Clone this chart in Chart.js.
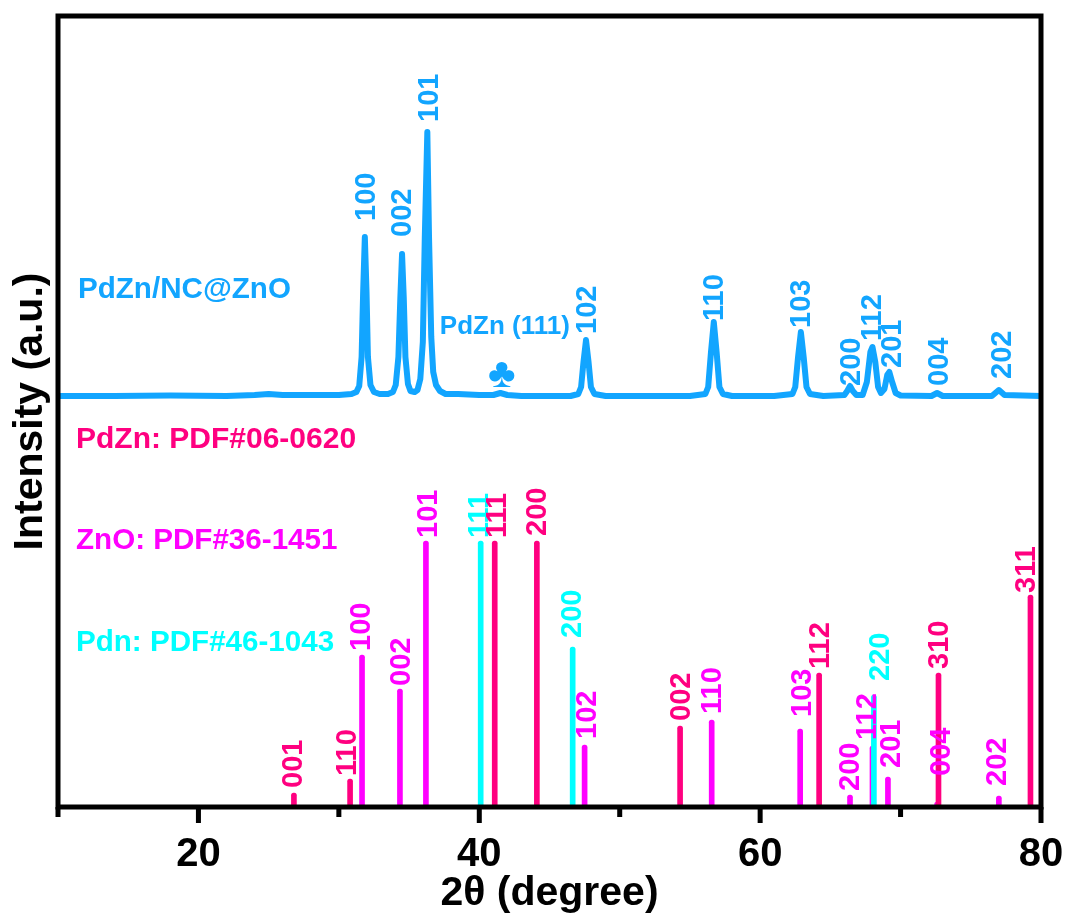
<!DOCTYPE html>
<html>
<head>
<meta charset="utf-8">
<title>XRD</title>
<script src="https://cdn.jsdelivr.net/npm/chart.js@4/dist/chart.umd.min.js"></script>
<style>
  body { margin: 0; background: #fff; }
  canvas { display: block; }
</style>
</head>
<body>
<canvas id="chart" width="1069" height="918"></canvas>
<script>
// measured XRD curve of the sample
const curveAngle = [10, 14, 18, 22, 24, 25, 26, 28, 30, 30.9, 31.25, 31.45, 31.62, 31.73, 31.85, 31.97, 32.07, 32.25, 32.5, 32.9,
  33.5, 33.85, 34.05, 34.24, 34.38, 34.5, 34.62, 34.74, 34.92, 35.1, 35.4, 35.6, 35.8, 35.98, 36.12, 36.3, 36.42, 36.58, 36.72, 36.92,
  37.2, 37.6, 38.5, 40, 41, 41.5, 42, 43, 45, 46.5, 47.05, 47.25, 47.42, 47.6, 47.78, 47.95, 48.2, 49, 52, 55,
  56.1, 56.3, 56.5, 56.7, 56.9, 57.1, 57.35, 58, 61, 62.3, 62.5, 62.7, 62.9, 63.1, 63.3, 63.55, 64.5, 66, 66.2, 66.4,
  66.6, 66.85, 67.3, 67.6, 67.85, 68, 68.2, 68.4, 68.6, 68.85, 69.05, 69.2, 69.4, 69.65, 70, 72.2, 72.6, 73, 76.5, 77, 77.4, 80];
const curveIntensity = [411, 411, 411.5, 411, 412, 413, 412, 412, 412, 413, 415, 421, 450, 515, 570, 515, 450, 422, 415, 413,
  413, 415, 422, 450, 510, 553, 510, 450, 423, 416, 415, 417, 428, 465, 570, 675, 570, 470, 435, 422,
  416, 413, 413, 412, 412, 414, 412, 411, 411, 411, 413, 420, 445, 467, 445, 420, 413, 411, 411, 411,
  413, 420, 455, 485, 455, 420, 413, 411, 411, 413, 420, 450, 475, 450, 420, 413, 411, 412, 416, 421,
  416, 412, 412, 425, 455, 460, 445, 420, 414, 418, 432, 435, 425, 414, 411.5, 411, 414, 411, 411, 417, 412, 411];

// reference patterns
const pdnAngle = [40.1, 46.65, 68.1];
const pdnIntensity = [266, 160, 112];
const pdznAngle = [26.8, 30.8, 41.1, 44.1, 54.3, 64.2, 72.7, 79.25];
const pdznIntensity = [14, 28, 266, 266, 81, 134, 134, 212];
const znoAngle = [31.65, 34.35, 36.2, 47.5, 56.55, 62.85, 66.4, 68, 69.1, 72.6, 77];
const znoIntensity = [152, 118, 266, 62, 87, 78, 12, 61, 30, 5, 11];

// hkl labels: text, angle, intensity at the foot of the rotated text
const curveLabels = [['100', 31.92, 587], ['002', 34.48, 571], ['101', 36.41, 686], ['102', 47.65, 474], ['110', 56.69, 487],
  ['103', 62.88, 480], ['200', 66.44, 422], ['112', 67.94, 467], ['201', 69.36, 440], ['004', 72.7, 422], ['202', 77.19, 429]];
const pdznLabels = [['001', 26.73, 20], ['110', 30.57, 32], ['111', 41.25, 270], ['200', 44.09, 272], ['002', 54.34, 87],
  ['112', 64.23, 139], ['310', 72.7, 139], ['311', 78.9, 215]];
const znoLabels = [['100', 31.57, 157], ['002', 34.41, 122], ['101', 36.33, 270], ['102', 47.65, 69], ['110', 56.55, 94],
  ['103', 62.95, 91], ['200', 66.37, 17], ['112', 67.58, 68], ['201', 69.29, 40], ['004', 72.85, 32], ['202', 76.83, 22]];
const pdnLabels = [['111', 39.96, 270], ['200', 46.58, 170], ['220', 68.5, 127]];

const BLUE = '#12a5ff', CRIMSON = '#ff0080', MAGENTA = '#ff00ff', CYAN = '#00ffff';
const FONT = '"Liberation Sans", Arial, sans-serif';

function toPoints(xs, ys) {
    return xs.map((x, i) => ({ x: x, y: ys[i] }));
}

function stick(label, xs, ys, color, width) {
    return {
        type: 'bar',
        label: label,
        data: toPoints(xs, ys),
        backgroundColor: color,
        barThickness: width,
        borderRadius: 3,
        borderSkipped: false,
        grouped: false
    };
}

// Frame, ticks and all the text sitting inside the plot
const overlay = {
    id: 'overlay',
    afterDatasetsDraw(chart) {
        const ctx = chart.ctx;
        const x = chart.scales.x, y = chart.scales.y;
        const area = chart.chartArea;

        ctx.save();
        ctx.strokeStyle = '#000';
        ctx.fillStyle = '#000';
        ctx.lineWidth = 5;
        ctx.strokeRect(area.left, area.top, area.right - area.left, area.bottom - area.top);

        // major ticks are longer than the minor ones
        x.ticks.forEach(t => {
            const len = t.value % 20 === 0 ? 16 : 10;
            ctx.fillRect(x.getPixelForValue(t.value) - 2.5, area.bottom, 5, len);
        });
        ctx.restore();

        function rotated(list, color) {
            ctx.save();
            ctx.fillStyle = color;
            ctx.font = 'bold 29px ' + FONT;
            ctx.textAlign = 'left';
            ctx.textBaseline = 'middle';
            list.forEach(l => {
                ctx.save();
                ctx.translate(x.getPixelForValue(l[1]) + 1.5, y.getPixelForValue(l[2]) + 1);
                ctx.rotate(-Math.PI / 2);
                ctx.fillText(l[0], 0, 0);
                ctx.restore();
            });
            ctx.restore();
        }
        rotated(curveLabels, BLUE);
        rotated(znoLabels, MAGENTA);
        rotated(pdnLabels, CYAN);
        rotated(pdznLabels, CRIMSON);

        function flat(text, ax, ay, color, size, align) {
            ctx.save();
            ctx.fillStyle = color;
            ctx.font = 'bold ' + size + 'px ' + FONT;
            ctx.textAlign = align || 'left';
            ctx.textBaseline = 'middle';
            ctx.fillText(text, x.getPixelForValue(ax), y.getPixelForValue(ay));
            ctx.restore();
        }
        flat('PdZn/NC@ZnO', 11.42, 517, BLUE, 29.6);
        flat('PdZn (111)', 37.19, 480, BLUE, 26);
        flat('♣', 41.6, 432, BLUE, 42, 'center');
        flat('PdZn: PDF#06-0620', 11.28, 367, CRIMSON, 30);
        flat('ZnO: PDF#36-1451', 11.28, 266, MAGENTA, 29.6);
        flat('Pdn: PDF#46-1043', 11.28, 164, CYAN, 29.6);
    }
};

new Chart(document.getElementById('chart').getContext('2d'), {
    data: {
        datasets: [
            stick('Pdn', pdnAngle, pdnIntensity, CYAN, 5),
            stick('PdZn', pdznAngle, pdznIntensity, CRIMSON, 5),
            stick('ZnO', znoAngle, znoIntensity, MAGENTA, 5),
            {
                type: 'line',
                label: 'PdZn/NC@ZnO',
                data: toPoints(curveAngle, curveIntensity),
                borderColor: BLUE,
                borderWidth: 6,
                pointRadius: 0,
                tension: 0,
                borderJoinStyle: 'round'
            }
        ]
    },
    options: {
        responsive: false,
        animation: false,
        layout: { padding: { top: 16, right: 28 } },
        plugins: { legend: { display: false }, tooltip: { enabled: false } },
        scales: {
            x: {
                type: 'linear',
                min: 10,
                max: 80,
                offset: false,
                afterFit: scale => {
                    scale.height = 111;
                    scale.paddingLeft = 0;
                    scale.paddingRight = 0;
                },
                grid: { display: false },
                border: { display: false },
                ticks: {
                    stepSize: 10,
                    autoSkip: false,
                    maxRotation: 0,
                    padding: 16,
                    color: '#000',
                    font: { family: FONT, size: 40, weight: 'bold' },
                    callback: v => (v % 20 === 0 ? v : '')
                },
                title: {
                    display: true,
                    text: '2θ (degree)',
                    color: '#000',
                    font: { family: FONT, size: 41, weight: 'bold' },
                    padding: { top: 0, bottom: 0 }
                }
            },
            y: {
                type: 'linear',
                min: 0,
                max: 791,
                afterFit: scale => { scale.width = 58; },
                grid: { display: false },
                border: { display: false },
                ticks: { display: false },
                title: {
                    display: true,
                    text: 'Intensity (a.u.)',
                    color: '#000',
                    font: { family: FONT, size: 41, weight: 'bold' },
                    padding: { top: 6, bottom: 0 }
                }
            }
        }
    },
    plugins: [overlay]
});
</script>
</body>
</html>
